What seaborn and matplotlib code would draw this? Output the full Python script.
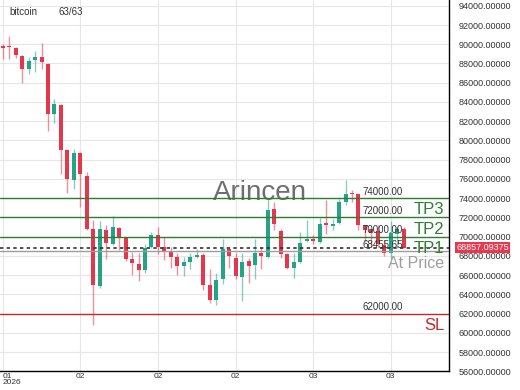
import numpy as np
import pandas as pd
import seaborn as sns
import matplotlib
matplotlib.use('Agg')
import matplotlib.pyplot as plt
import matplotlib.transforms as mtrans
from matplotlib.ticker import StrMethodFormatter

sns.set_style('white')
plt.rcParams['font.family'] = ['Liberation Sans', 'DejaVu Sans']

# candles
opens = [89700, 89750, 89600, 88780, 87440, 88370, 88670, 87960, 82720, 83650,
         79030, 75850, 78720, 76260, 70820, 64870, 70720, 69280, 70920, 69900,
         67640, 67130, 66510, 68870, 70210, 68970, 68460, 67850, 66920, 67330,
         67850, 68050, 64970, 63430, 65590, 68670, 67740, 65790, 67440, 67030,
         68260, 67850, 72870, 70620, 68150, 66720, 67330, 69590, 69690, 69490,
         71440, 71130, 71440, 73590, 74510, 74410, 71230, 70820, 70620, 69180,
         68260, 70310, 70820]
highs = [90010, 90830, 89700, 88880, 88670, 89290, 90110, 88060, 84260, 83750,
         79130, 79130, 78820, 76670, 71740, 71640, 71230, 72160, 71030, 70000,
         68360, 68260, 69280, 70510, 71030, 70000, 68870, 68260, 67850, 68260,
         68670, 68260, 66610, 66200, 69800, 68970, 68260, 68260, 67740, 69800,
         68870, 73900, 73590, 70820, 68260, 68260, 70510, 71740, 70210, 71950,
         73800, 71850, 73900, 75850, 74820, 74410, 71230, 70820, 71230, 69690,
         71640, 71030, 71030]
lows = [88470, 88470, 88570, 86010, 86930, 87130, 87440, 80980, 81800, 76460,
        74510, 74930, 73080, 70700, 60770, 64670, 67640, 69180, 68560, 67430,
        66000, 65380, 66200, 68770, 68150, 67540, 66720, 66000, 65900, 66610,
        67740, 64460, 63130, 62920, 65080, 66720, 65590, 63330, 65180, 65590,
        66610, 67740, 70720, 67740, 66610, 65690, 67230, 69490, 69280, 69380,
        70310, 70720, 71330, 73280, 73590, 70720, 69490, 68970, 68970, 67950,
        67640, 68770, 68770]
closes = [89650, 89700, 88880, 87440, 88260, 88670, 88160, 82720, 83750, 79030,
          75950, 78720, 76460, 70820, 64970, 70820, 69380, 71030, 70000, 67640,
          67230, 66510, 68770, 70210, 68970, 68460, 67850, 66920, 67330, 67850,
          68050, 64970, 63430, 65490, 68670, 67950, 65900, 67330, 66920, 68260,
          67950, 72770, 71330, 68150, 66720, 67330, 69380, 69690, 69590, 71330,
          71230, 71330, 73590, 74410, 74410, 71230, 70720, 70410, 69280, 68260,
          70410, 70820, 68857.09375]

tick_pos = [0, 12, 24, 36, 48, 60]
tick_labels = ['01\n2026', '02', '02', '02', '03', '03']

level_values = [74000.00, 72000.00, 70000.00, 68455.65, 62000.00]
level_names = ['TP3', 'TP2', 'TP1', 'At Price', 'SL']
level_colors = ['#2e7d32', '#2e7d32', '#2e7d32', '#9e9e9e', '#c62828']
last_price = 68857.09375

df = pd.DataFrame({'open': opens, 'high': highs, 'low': lows, 'close': closes})
df['i'] = np.arange(len(df))
df['up'] = df['close'] > df['open']

red = '#e2374c'
green = '#26a386'

fig = plt.figure(figsize=(5.2, 3.9), dpi=100)
ax = fig.add_axes([0, 0.048, 0.8635, 0.952])

col = np.where(df['up'], green, red)
ax.vlines(df['i'], df['low'], df['high'], colors=col, lw=1, alpha=0.55, zorder=2)
body = (df['close'] - df['open']).abs().clip(lower=120)
bottom = df[['open', 'close']].min(axis=1)
ax.bar(df['i'], body, bottom=bottom, width=0.62, color=col, zorder=3, lw=0)

blend = mtrans.blended_transform_factory(ax.transAxes, ax.transData)
for v, name, c in zip(level_values, level_names, level_colors):
    ax.axhline(v, color=c, lw=1, zorder=4)
    ax.annotate(f'{v:.2f}', (0.808, v), xycoords=blend, xytext=(0, 1),
                textcoords='offset points', fontsize=7, color='#333333',
                va='bottom', ha='left', zorder=5)
    ax.annotate(name, (0.99, v), xycoords=blend, xytext=(0, -3),
                textcoords='offset points', fontsize=12 if name != 'At Price' else 11.5,
                color=c, va='top', ha='right', zorder=5)

ax.axhline(last_price, color='#333333', lw=1.2, ls=(0, (2, 2)), zorder=4)
ax.text(1.016, last_price, f'{last_price:.5f}', transform=blend, fontsize=6.5,
        color='white', va='center', ha='left',
        bbox=dict(boxstyle='square,pad=0.15', fc='#e8374f', ec='none'), zorder=6)

ax.text(0.58, 0.48, 'Arincen', transform=ax.transAxes, fontsize=20,
        color='#555555', alpha=0.85, ha='center', va='center', zorder=1)
ax.text(0.02, 0.968, 'bitcoin', transform=ax.transAxes, fontsize=7,
        color='#333333', va='center')
ax.text(0.13, 0.968, '63/63', transform=ax.transAxes, fontsize=7,
        color='#333333', va='center')

ax.set_xlim(-0.42, 69.0)
ax.set_ylim(56000, 94600)
ax.set_xticks(tick_pos)
ax.set_xticklabels(tick_labels, fontsize=6, color='#333333', linespacing=0.8)
ax.get_xticklabels()[0].set_ha('left')
ax.set_yticks(np.arange(56000, 94001, 2000))
ax.yaxis.set_major_formatter(StrMethodFormatter('{x:.5f}'))
ax.yaxis.tick_right()
ax.tick_params(axis='y', length=0, pad=7, labelsize=6.5, labelcolor='#333333')
ax.tick_params(axis='x', length=0, pad=1)

ax.grid(True, color='#e6e6e6', lw=0.8)
ax.set_axisbelow(True)
for s in ['top', 'left']:
    ax.spines[s].set_visible(False)
for s in ['right', 'bottom']:
    ax.spines[s].set_color('black')
    ax.spines[s].set_linewidth(1)

fig.savefig('out.png', dpi=100)
